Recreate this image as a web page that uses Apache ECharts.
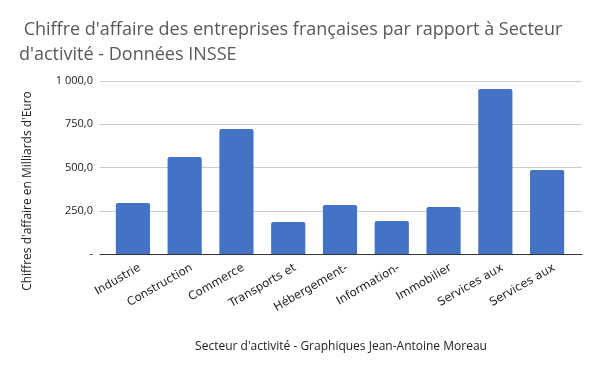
<!DOCTYPE html>
<html><head><meta charset="utf-8">
<script src="https://cdn.jsdelivr.net/npm/echarts@6/dist/echarts.min.js"></script>
<style>html,body{margin:0;padding:0;background:#fff}#c{width:600px;height:371px}</style>
</head><body><div id="c"></div>
<script>
const categories = ["Industrie","Construction","Commerce","Transports et","Hébergement-","Information-","Immobilier","Services aux","Services aux"];
const values = [295, 561, 722, 185, 283, 191, 272, 954, 486];
const yTicks = [0, 250, 500, 750, 1000];
const titleText = " Chiffre d'affaire des entreprises françaises par rapport à Secteur\nd'activité - Données INSSE";
const yName = "Chiffres d'affaire en Milliards d'Euro";
const xName = "Secteur d'activité - Graphiques Jean-Antoine Moreau";

function fmt(v){
  if (v === 0) return "-";
  const s = v.toFixed(1).split(".");
  const intPart = s[0].replace(/\B(?=(\d{3})+(?!\d))/g, " ");
  return intPart + "," + s[1];
}
const yMin = yTicks[0], yMax = yTicks[yTicks.length-1], yStep = yTicks[1]-yTicks[0];

const chart = echarts.init(document.getElementById('c'));
chart.setOption({
  animation:false,
  title:{
    text:titleText, left:14, top:12,
    textStyle:{fontFamily:"Open Sans", fontSize:18, fontWeight:"normal", color:"#595959", lineHeight:25}
  },
  graphic:[{
    type:"text", x:28, y:191, rotation:Math.PI/2,
    style:{text:yName, align:"center", verticalAlign:"middle", font:"12px 'Open Sans'", fill:"#222"}
  }],
  grid:[
    {left:100, right:18, top:81, bottom:117},
    {left:107, right:27, top:81, bottom:117},
    {left:114, right:20, top:81, bottom:114}
  ],
  xAxis:[{
    gridIndex:0, type:"category", data:categories,
    axisLine:{lineStyle:{color:"#333", width:1}},
    axisTick:{show:false}, axisLabel:{show:false},
    name:xName, nameLocation:"middle", nameGap:87,
    nameTextStyle:{fontFamily:"Open Sans", fontSize:12, color:"#222"}
  },{
    gridIndex:1, type:"category", data:categories,
    axisLine:{show:false}, axisTick:{show:false}, axisLabel:{show:false}
  },{
    gridIndex:2, type:"category", data:categories,
    axisLine:{show:false}, axisTick:{show:false},
    axisLabel:{rotate:30, fontFamily:"DejaVu Sans", fontSize:11.5, color:"#222", margin:10, interval:0}
  }],
  yAxis:[{
    gridIndex:0, type:"value", min:yMin, max:yMax, interval:yStep,
    axisLine:{show:false}, axisTick:{show:false},
    splitLine:{lineStyle:{color:"#ccc"}},
    axisLabel:{formatter:fmt, fontFamily:"Open Sans", fontSize:11, color:"#222", margin:7}
  },{
    gridIndex:1, type:"value", min:yMin, max:yMax, interval:yStep,
    axisLine:{show:false}, axisTick:{show:false}, splitLine:{show:false}, axisLabel:{show:false}
  },{
    gridIndex:2, type:"value", min:yMin, max:yMax, interval:yStep,
    axisLine:{show:false}, axisTick:{show:false}, splitLine:{show:false}, axisLabel:{show:false}
  }],
  series:[{
    type:"bar", xAxisIndex:1, yAxisIndex:1, data:values, barWidth:"66%",
    itemStyle:{color:"#4472C4", borderRadius:[2,2,0,0]}
  }]
});
</script></body></html>
